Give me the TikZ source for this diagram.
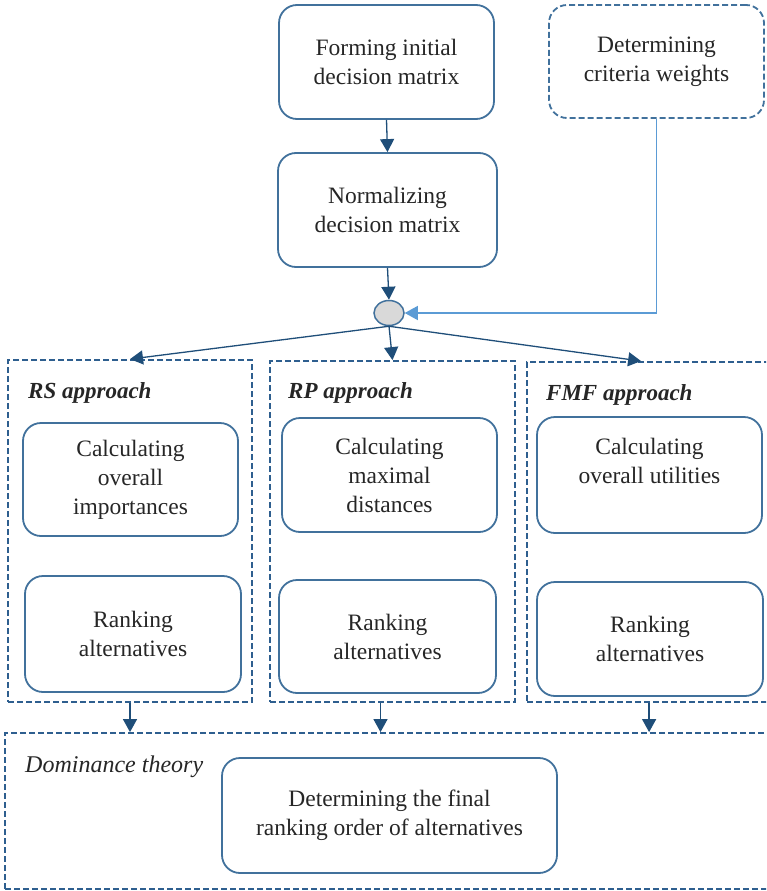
\documentclass[tikz,border=0pt]{standalone}
\usepackage{fontspec}
\setmainfont{Liberation Serif}
\usetikzlibrary{arrows.meta,shapes.geometric}
\definecolor{boxblue}{RGB}{65,113,156}
\definecolor{frameblue}{RGB}{46,95,143}
\definecolor{arrowblue}{RGB}{31,78,121}
\definecolor{lightblue}{RGB}{91,155,213}
\definecolor{circfill}{RGB}{217,217,217}
\begin{document}
\begin{tikzpicture}[x=1pt,y=-1pt,
  txt/.style={font=\fontsize{23.5}{29}\selectfont, text=black!85, align=center},
  rbox/.style={rectangle, draw=boxblue, line width=1.8pt, rounded corners=18pt, inner sep=0pt, txt},
  dbox/.style={rbox, dash pattern=on 6pt off 3pt},
  frame/.style={rectangle, draw=frameblue, line width=1.8pt, dash pattern=on 6pt off 3pt, inner sep=0pt},
  lab/.style={font=\fontsize{23}{27}\selectfont\bfseries\itshape, text=black!85, anchor=base west, inner sep=0pt},
  arr/.style={draw=arrowblue, line width=1.3pt, -{Triangle[length=13pt,width=14pt]}},
  lightarr/.style={draw=lightblue, line width=1.2pt, -{Triangle[length=13pt,width=14pt]}}
]
\useasboundingbox (0,0) rectangle (766,891);
\clip (0,0) rectangle (766,891);

% top
\node[rbox, minimum width=215pt, minimum height=114pt] (form) at (386.5,62) {Forming initial\\decision matrix};
\node[dbox, minimum width=215pt, minimum height=113pt] (weights) at (656.5,61.5) {Determining\\criteria weights};
\node[rbox, minimum width=219pt, minimum height=114pt] (norm) at (387.5,210) {Normalizing\\decision matrix};
\node[ellipse, draw=boxblue, fill=circfill, line width=1.5pt, minimum width=30pt, minimum height=25pt, inner sep=0pt] (junc) at (389,313) {};

% method frames
\node[frame, minimum width=244pt, minimum height=342pt] (rs) at (130,531) {};
\node[frame, minimum width=245pt, minimum height=341pt] (rp) at (392.5,531.5) {};
\node[frame, minimum width=253pt, minimum height=340pt] (fmf) at (653.5,532) {};

\node[lab] (rslab) at (28,398) {RS approach};
\node[lab] (rplab) at (288,398) {RP approach};
\node[lab] (fmflab) at (546,400) {FMF approach};

\node[rbox, minimum width=215pt, minimum height=113pt] (rs1) at (130.5,479.5) {Calculating\\overall\\importances};
\node[rbox, minimum width=216pt, minimum height=116pt] (rs2) at (133,634) {Ranking\\alternatives};
\node[rbox, minimum width=215pt, minimum height=114pt] (rp1) at (389.5,475) {Calculating\\maximal\\distances};
\node[rbox, minimum width=217pt, minimum height=113pt] (rp2) at (387.5,636.5) {Ranking\\alternatives};
\node[rbox, minimum width=225pt, minimum height=116pt] (fmf1) at (649.5,475) {Calculating\\overall utilities\\~};
\node[rbox, minimum width=226pt, minimum height=114pt] (fmf2) at (650,639) {Ranking\\alternatives};

% dominance
\node[frame, minimum width=765pt, minimum height=156pt] (dom) at (387.5,811) {};
\node[font=\fontsize{24}{28}\selectfont\itshape, text=black!85, anchor=base west, inner sep=0pt] (domlab) at (25,772) {Dominance theory};
\node[rbox, minimum width=335pt, minimum height=115pt] (fin) at (389.5,815.5) {Determining the final\\ranking order of alternatives};

% connectors
\draw[arr] (form.south) -- (norm.north);
\draw[arr] (norm.south) -- (junc.north);
\draw[lightarr] (weights.south) |- (junc.east);
\draw[arr] (junc.south) -- (rs.north);
\draw[arr] (junc.south) -- (rp.north);
\draw[arr] (junc.south) -- ([xshift=115pt]fmf.north west);
\draw[arr] (rs.south) -- (rs.south |- dom.north);
\draw[arr] ([xshift=-12pt]rp.south) -- ([xshift=-12pt]rp.south |- dom.north);
\draw[arr] ([xshift=123pt]fmf.south west) -- ([xshift=123pt]fmf.south west |- dom.north);
\end{tikzpicture}
\end{document}
